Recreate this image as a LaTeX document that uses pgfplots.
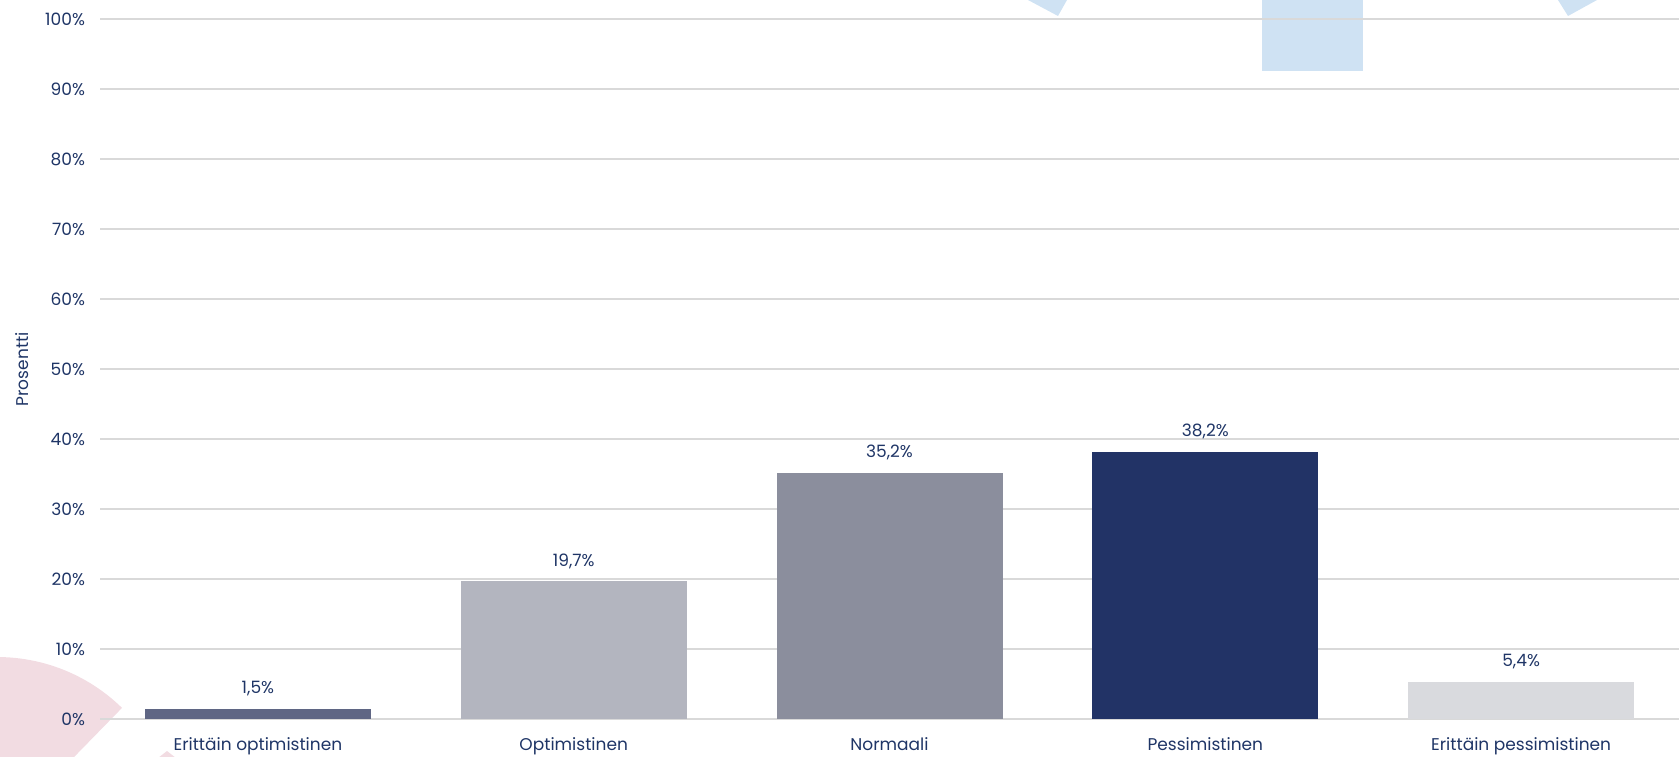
\documentclass[border=0pt]{standalone}
\usepackage{pgfplots}
\pgfplotsset{compat=1.18}
\usepackage{fontspec}
\setmainfont{Poppins}
\setsansfont{Poppins}
\definecolor{txt}{HTML}{1F3566}
\definecolor{gridc}{HTML}{D9D9D9}
\definecolor{cA}{HTML}{5F6684}
\definecolor{cB}{HTML}{B3B5BF}
\definecolor{cC}{HTML}{8B8E9D}
\definecolor{cD}{HTML}{223366}
\definecolor{cE}{HTML}{D9DADE}
\definecolor{pinkd}{HTML}{F2DCE2}
\definecolor{blued}{HTML}{CFE2F3}
\begin{document}
\begin{tikzpicture}[x=0.5pt,y=-0.5pt]
% background decorations (image pixel coordinates, y downward from top)
\begin{scope}[shift={(0,-756)}]
\fill[pinkd] (-3,836) -- ++(-45.7:179) arc[start angle=-45.7,end angle=-180,radius=179] -- cycle;
\fill[pinkd] (158,758) -- (167,751) -- (176,758) -- cycle;
\fill[blued] (1058,16) -- (998,-16) -- (1016,-48) -- (1076,-16) -- cycle;
\fill[blued] (1568,16) -- (1548,-16) -- (1606,-48) -- (1626,-16) -- cycle;
\fill[blued] (1262,-5) rectangle (1363,71);
\end{scope}
\begin{axis}[
  at={(50pt,18.35pt)}, anchor=south west,
  scale only axis, width=789.5pt, height=350pt,
  xmin=-0.5, xmax=4.5, ymin=0, ymax=100,
  ybar, bar width=113pt,
  axis line style={draw=none},
  major tick length=0pt,
  ytick={0,10,...,100},
  ymajorgrids, grid style={gridc, line width=1pt},
  yticklabel={\pgfmathprintnumber{\tick}\%},
  xtick={0,1,2,3,4},
  xticklabels={Erittäin optimistinen,Optimistinen,Normaali,Pessimistinen,Erittäin pessimistinen},
  /pgf/number format/assume math mode=true,
  tick label style={font=\fontsize{8.5}{10}\selectfont, text=txt},
  xticklabel style={anchor=base, yshift=-15.4pt},
  yticklabel style={xshift=-4pt},
  ylabel={Prosentti},
  every axis y label/.style={at={(axis description cs:-0.0494,0.5)}, anchor=center, rotate=90, font=\fontsize{8.5}{10}\selectfont, text=txt},
  nodes near coords={\pgfmathprintnumber[use comma,fixed,fixed zerofill,precision=1]{\pgfplotspointmeta}\%},
  every node near coord/.append style={font=\fontsize{8.5}{10}\selectfont, text=txt, anchor=base, yshift=7.5pt},
  clip=false,
]
\addplot[fill=cA, draw=none, bar shift=0pt] coordinates {(0,1.5)};
\addplot[fill=cB, draw=none, bar shift=0pt] coordinates {(1,19.7)};
\addplot[fill=cC, draw=none, bar shift=0pt] coordinates {(2,35.2)};
\addplot[fill=cD, draw=none, bar shift=0pt] coordinates {(3,38.2)};
\addplot[fill=cE, draw=none, bar shift=0pt] coordinates {(4,5.4)};
\end{axis}
\pgfresetboundingbox
\useasboundingbox (0,0) rectangle (1679,-756);
\end{tikzpicture}
\end{document}
